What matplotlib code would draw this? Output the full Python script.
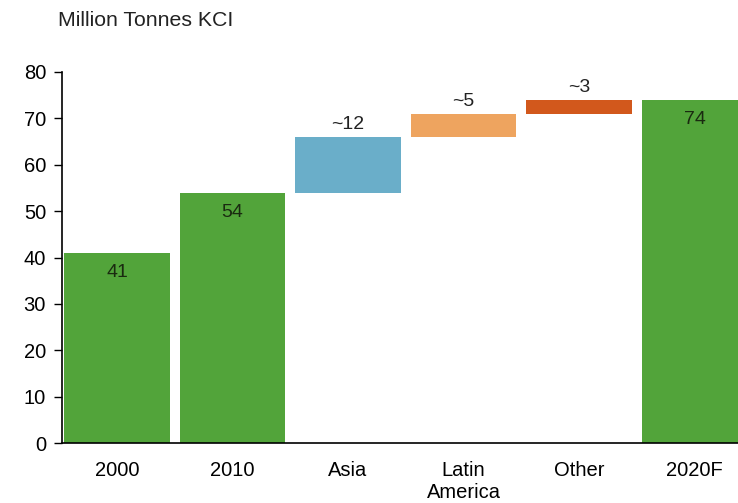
import matplotlib.pyplot as plt

plt.rcParams['font.family'] = ['Liberation Sans', 'DejaVu Sans']

# Potash demand bridge, 2000 -> 2020F
categories = ['2000', '2010', 'Asia', 'Latin\nAmerica', 'Other', '2020F']
totals = {'2000': 41, '2010': 54, '2020F': 74}
increments = {'Asia': 12, 'Latin\nAmerica': 5, 'Other': 3}
labels = ['41', '54', '~12', '~5', '~3', '74']

green = '#52a43a'
colors = [green, green, '#6aaec9', '#eea45f', '#d2581c', green]

fig = plt.figure(figsize=(7.38, 5.03), dpi=100)
ax = fig.add_axes([0.084, 0.119, 0.916, 0.738])

# work out bottoms and heights for each bar of the waterfall
bottoms, heights = [], []
running = 0
for cat in categories:
    if cat in totals:
        bottoms.append(0)
        heights.append(totals[cat])
        running = totals[cat]
    else:
        bottoms.append(running)
        heights.append(increments[cat])
        running += increments[cat]

x = range(len(categories))
ax.bar(x, heights, bottom=bottoms, width=0.91, color=colors, linewidth=0)

for i, cat in enumerate(categories):
    top = bottoms[i] + heights[i]
    if cat in totals:
        ax.annotate(labels[i], (i, top), xytext=(0, -8), textcoords='offset points',
                    ha='center', va='top', fontsize=14, color='#1a2a10')
    else:
        ax.annotate(labels[i], (i, top), xytext=(0, 3), textcoords='offset points',
                    ha='center', va='bottom', fontsize=14, color='#222222')

ax.set_xlim(-0.476, 5.377)
ax.set_ylim(0, 80)
ax.set_yticks(range(0, 81, 10))
ax.set_xticks(list(x))
ax.set_xticklabels(categories)
ax.tick_params(axis='x', length=0, pad=12.5, labelsize=14.5)
ax.tick_params(axis='y', length=6, width=1, pad=5.5, labelsize=14.5)

for side in ['top', 'right']:
    ax.spines[side].set_visible(False)
for side in ['left', 'bottom']:
    ax.spines[side].set_linewidth(1.2)

fig.text(0.079, 0.96, 'Million Tonnes KCI', fontsize=15.3, ha='left', va='center', color='#222222')

fig.savefig('out.png', dpi=100)
